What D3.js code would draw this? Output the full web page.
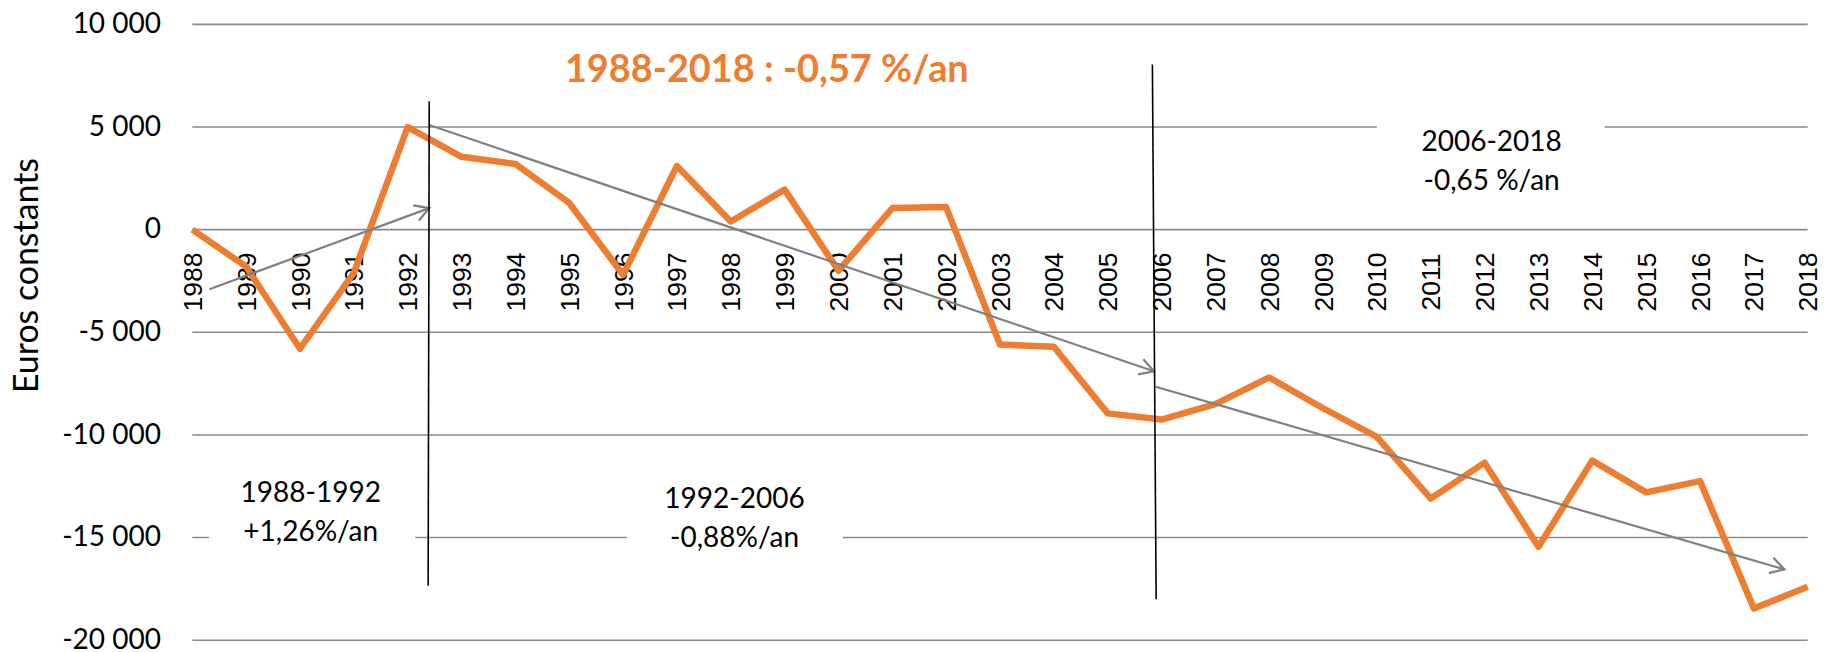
<!DOCTYPE html>
<html>
<head>
<meta charset="utf-8">
<script src="https://cdn.jsdelivr.net/npm/d3@7"></script>
<style>
  html, body { margin: 0; padding: 0; background: #fff; }
  svg { display: block; }
</style>
</head>
<body>
<svg id="chart" width="1831" height="652"></svg>
<script>
// ---------- data ----------
const years = d3.range(1988, 2019);
const values = [
  0, -1800, -5800, -2100, 5000, 3550, 3200, 1300, -2200, 3100,
  400, 1950, -2000, 1050, 1100, -5600, -5700, -8950, -9250, -8500,
  -7200, -8700, -10100, -13100, -11350, -15450, -11250, -12800, -12250, -18450,
  -17400
];
const yTicks = [10000, 5000, 0, -5000, -10000, -15000, -20000];
const yTitle = "Euros constants";
const mainTitle = "1988-2018 : -0,57 %/an";
// trend arrows: [startYear, startValue, endYear, endValue]
const trendArrows = [
  [1988.32, -2900, 1992.40, 1050],
  [1992.40, 5100, 2005.86, -6900],
  [2005.89, -7650, 2017.57, -16550]
];
// period separators: [yearTop, valueTop, yearBottom, valueBottom]
const separators = [
  [1992.40, 6250, 1992.38, -17350],
  [2005.83, 8050, 2005.90, -18000]
];
// period annotations
const periodLabels = [
  { lines: ["1988-1992", "+1,26%/an"], year: 1990.20, value: -13260, box: [1988.31, 1992.14, -11200, -16300] },
  { lines: ["1992-2006", "-0,88%/an"], year: 1998.07, value: -13540, box: [1996.07, 2000.08, -11200, -16300] },
  { lines: ["2006-2018", "-0,65 %/an"], year: 2012.13, value: 3810, box: [2010.0, 2014.23, 6000, 1300] }
];

// ---------- scales ----------
const svg = d3.select("#chart");
const x = d3.scaleLinear().domain([1988, 2018]).range([192.3, 1807.7]);
const y = d3.scaleLinear().domain([-20000, 10000]).range([640.2, 24.4]);

const ORANGE = "#ED7D31";
const GRID = "#8a8a8a";
const ARROW = "#808080";
const CAL = "Lato, 'Open Sans', sans-serif";

const fmt = v => {
  const s = d3.format(",")(Math.abs(v)).replace(/,/g, " ");
  return (v < 0 ? "-" : "") + s;
};
function fit(sel, target) {
  const len = sel.node().getComputedTextLength();
  const fs = +sel.attr("font-size");
  sel.attr("font-size", fs * target / len);
}

// gridlines
svg.append("g").selectAll("line").data(yTicks).join("line")
  .attr("x1", x(1988)).attr("x2", x(2018))
  .attr("y1", d => y(d)).attr("y2", d => y(d))
  .attr("stroke", GRID).attr("stroke-width", 1.6);

// y tick labels
svg.append("g").selectAll("text").data(yTicks).join("text")
  .attr("x", 161).attr("y", d => y(d))
  .attr("dy", "0.31em")
  .attr("text-anchor", "end")
  .attr("font-family", CAL).attr("font-size", 28)
  .attr("fill", "#000")
  .text(d => fmt(d));

// y title
const yt = svg.append("text")
  .attr("transform", `translate(38,275.5) rotate(-90)`)
  .attr("text-anchor", "middle")
  .attr("font-family", CAL).attr("font-size", 30)
  .attr("fill", "#000")
  .text(yTitle);
fit(yt, 235);

// white boxes behind period annotations
svg.append("g").selectAll("rect").data(periodLabels).join("rect")
  .attr("x", d => x(d.box[0])).attr("width", d => x(d.box[1]) - x(d.box[0]))
  .attr("y", d => y(d.box[2])).attr("height", d => y(d.box[3]) - y(d.box[2]))
  .attr("fill", "#fff");

// period annotation texts
const pl = svg.append("g").selectAll("text").data(periodLabels).join("text")
  .attr("text-anchor", "middle")
  .attr("font-family", CAL).attr("font-size", 28)
  .attr("fill", "#000");
pl.each(function(d) {
  const t = d3.select(this);
  d.lines.forEach((ln, i) => {
    t.append("tspan").attr("x", x(d.year)).attr("y", y(d.value) + i * 39).text(ln);
  });
});

// x axis labels (rotated)
svg.append("g").selectAll("text").data(years).join("text")
  .attr("transform", d => `translate(${x(d)},282) rotate(-90)`)
  .attr("text-anchor", "middle")
  .attr("dy", "0.36em")
  .attr("font-family", "'Liberation Sans', Arial, sans-serif")
  .attr("font-size", 26.5)
  .attr("fill", "#000")
  .text(d => d);

// main series
const line = d3.line().x((d, i) => x(years[i])).y(d => y(d));
svg.append("path")
  .datum(values)
  .attr("d", line)
  .attr("fill", "none")
  .attr("stroke", ORANGE)
  .attr("stroke-width", 6.5)
  .attr("stroke-linejoin", "round")
  .attr("stroke-linecap", "butt");

// arrow marker
svg.append("defs").append("marker")
  .attr("id", "arr")
  .attr("markerUnits", "userSpaceOnUse")
  .attr("viewBox", "-16 -10 20 20")
  .attr("refX", 0).attr("refY", 0)
  .attr("markerWidth", 20).attr("markerHeight", 20)
  .attr("orient", "auto")
  .append("path")
  .attr("d", "M-14,-8 L0,0 L-14,8")
  .attr("fill", "none").attr("stroke", ARROW).attr("stroke-width", 2.2);

svg.append("g").selectAll("line").data(trendArrows).join("line")
  .attr("x1", d => x(d[0])).attr("y1", d => y(d[1]))
  .attr("x2", d => x(d[2])).attr("y2", d => y(d[3]))
  .attr("stroke", ARROW).attr("stroke-width", 2.2)
  .attr("marker-end", "url(#arr)");

// separators
svg.append("g").selectAll("line").data(separators).join("line")
  .attr("x1", d => x(d[0])).attr("y1", d => y(d[1]))
  .attr("x2", d => x(d[2])).attr("y2", d => y(d[3]))
  .attr("stroke", "#000").attr("stroke-width", 1.6);

// title
const tt = svg.append("text")
  .attr("x", x(1994.92)).attr("y", 81.5)
  .attr("font-family", CAL).attr("font-weight", 700).attr("font-size", 36)
  .attr("fill", ORANGE)
  .text(mainTitle);
fit(tt, 404);
</script>
</body>
</html>
